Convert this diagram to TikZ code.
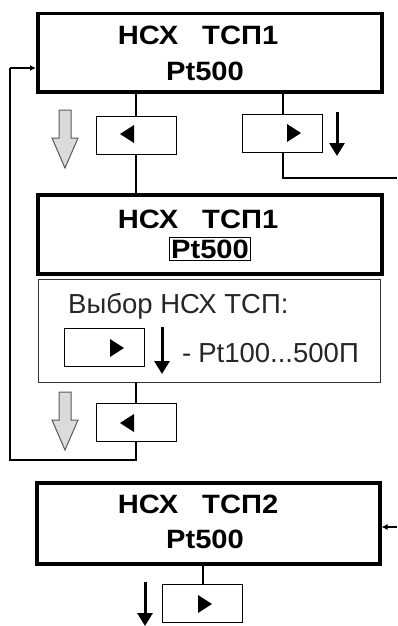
\documentclass[tikz,border=0pt]{standalone}
\usepackage{fontspec}
\setmainfont{Liberation Sans}
\newfontfamily\titlefont[FakeStretch=1.1]{Liberation Sans}
\usetikzlibrary{arrows.meta,calc}
\begin{document}
\begin{tikzpicture}[x=1pt,y=-1pt,
  bigbox/.style={draw=black,line width=3.5pt,fill=white},
  thinbox/.style={draw=black!80,line width=1.2pt},
  keybox/.style={draw=black,line width=1.2pt,minimum width=80pt,minimum height=38pt,inner sep=0pt},
  conn/.style={draw=black,line width=1.2pt},
  blk/.style={draw=black,line width=3pt,-{Triangle[length=13pt,width=15pt]}},
  fb/.style={draw=black,line width=1.2pt,-{Latex[length=6pt,width=6pt]}},
  tl/.style={font=\titlefont\fontsize{26.5}{26.5}\selectfont\bfseries,inner sep=0pt,anchor=base},
  rl/.style={font=\fontsize{27.5}{27.5}\selectfont,text=black!85,inner sep=0pt,anchor=base west},
  garrow/.style={draw=black!65,line width=1pt,fill=blue!6!black!14,line join=miter}
]
\useasboundingbox (0,0) rectangle (397,626);
\fill[white] (0,0) rectangle (397,626);

\newcommand{\grayarrow}[2]{%
  \draw[garrow] ($(#1,#2)+(-6,0)$) -- ++(12,0) -- ++(0,28) -- ++(7,0) -- ++(-13,30) -- ++(-13,-30) -- ++(7,0) -- cycle;}
\newcommand{\trir}[2]{\fill[black] (#1,#2) ++(7,0) -- ++(-14,-9) -- ++(0,18) -- cycle;}
\newcommand{\tril}[2]{\fill[black] (#1,#2) ++(-7,0) -- ++(14,-9) -- ++(0,18) -- cycle;}

% Box 1
\node[bigbox,minimum width=344pt,minimum height=78pt,anchor=north west,inner sep=0pt] (b1) at (36,12) {};
\node[tl] (b1a) at (198,45) {НСХ\hspace{24pt}ТСП1};
\node[tl] (b1b) at (205,80) {Pt500};

% key boxes under box 1
\node[keybox,anchor=north west] (k1) at (96,116) {};
\node[keybox,anchor=north west] (k2) at (242,114) {};
\tril{127}{134}
\trir{294}{133}
\coordinate (l1top) at (136,90);
\coordinate (r1top) at (283,90);
\draw[conn] (l1top) -- (l1top|-k1.north);
\draw[conn] (r1top) -- (r1top|-k2.north);
\coordinate (r1turn) at (283,178);
\coordinate (r1end) at (397,178);
\draw[conn] (r1top|-k2.south) -- (r1turn) -- (r1end);
\coordinate (a1s) at (337,112);
\coordinate (a1e) at (337,156);
\draw[blk] (a1s) -- (a1e);
\grayarrow{65}{110}

% Box 2
\node[bigbox,minimum width=344pt,minimum height=79pt,anchor=north west,inner sep=0pt] (b2) at (36,193) {};
\draw[conn] (k1.south-|l1top) -- (l1top|-b2.north);
\node[tl] (b2a) at (198,228) {НСХ\hspace{24pt}ТСП1};
\node[tl,draw=black,line width=1.2pt,inner sep=2pt] (b2b) at (210,258) {Pt500};

% Box 3
\node[thinbox,minimum width=342pt,minimum height=103pt,anchor=north west,inner sep=0pt] (b3) at (38,279) {};
\node[rl] (b3a) at (68,313) {Выбор НСХ ТСП:};
\node[keybox,anchor=north west] (k3) at (64,328) {};
\trir{117}{348}
\coordinate (a3s) at (162,327);
\coordinate (a3e) at (162,374);
\draw[blk] (a3s) -- (a3e);
\node[rl] (b3b) at (182,362) {-\hspace{7pt}Pt100...500П};

% lower left key
\node[keybox,anchor=north west] (k4) at (96,403) {};
\tril{127}{423}
\coordinate (l3top) at (136,382);
\draw[conn] (l3top) -- (l3top|-k4.north);
\grayarrow{65}{392}
% feedback loop
\coordinate (fb1) at (136,460);
\coordinate (fb2) at (10,460);
\coordinate (fb3) at (10,68);
\draw[conn] (k4.south-|l3top) -- (fb1) -- (fb2) -- (fb3);
\draw[fb] (fb3) -- (fb3-|b1.west);

% Box 4
\node[bigbox,minimum width=343pt,minimum height=81pt,anchor=north west,inner sep=0pt] (b4) at (35,481) {};
\node[tl] (b4a) at (198,513) {НСХ\hspace{24pt}ТСП2};
\node[tl] (b4b) at (205,548) {Pt500};
\coordinate (in4) at (397,527);
\draw[fb] (in4) -- (in4-|b4.east);
\node[keybox,anchor=north west] (k5) at (162,584) {};
\trir{205}{604}
\coordinate (l4top) at (203,562);
\draw[conn] (l4top) -- (l4top|-k5.north);
\coordinate (a5s) at (145,582);
\coordinate (a5e) at (145,626);
\draw[blk] (a5s) -- (a5e);
\end{tikzpicture}
\end{document}
